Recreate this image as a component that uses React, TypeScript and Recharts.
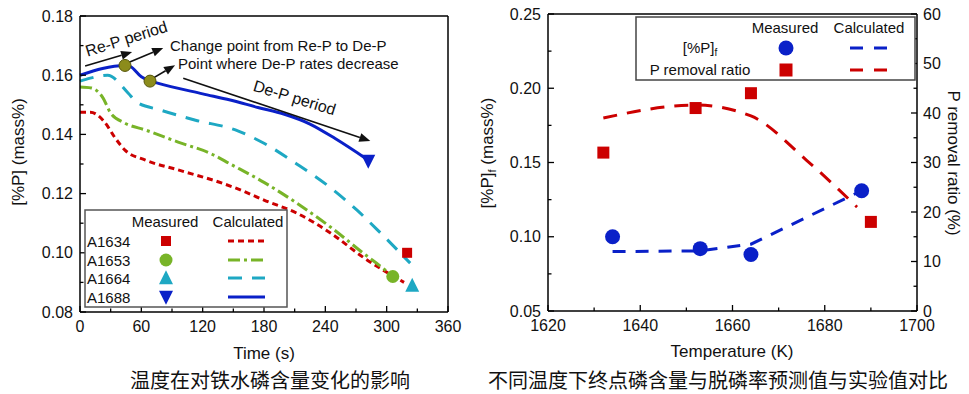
import React from "react";
import { ComposedChart, Line, Scatter, XAxis, YAxis, ReferenceLine } from "recharts";

// ---- left chart: [%P] vs time ----
const timeTicks = [0, 30, 60, 90, 120, 150, 180, 210, 240, 270, 300, 330, 360];
const pTicks = [0.08, 0.09, 0.1, 0.11, 0.12, 0.13, 0.14, 0.15, 0.16, 0.17, 0.18];

const a1634Time = [0, 10, 24, 34, 44, 64, 96, 135, 155, 180, 212, 245, 277, 317];
const a1634Calc = [0.1475, 0.1475, 0.1442, 0.139, 0.1347, 0.1313, 0.128, 0.124, 0.1215, 0.1178, 0.1134, 0.1067, 0.0985, 0.09];

const a1653Time = [0, 11, 22, 30, 44, 64, 96, 128, 147, 180, 212, 245, 277, 301, 306];
const a1653Calc = [0.156, 0.1557, 0.1526, 0.1472, 0.1438, 0.1415, 0.1374, 0.1335, 0.13, 0.1238, 0.1168, 0.1087, 0.0999, 0.0935, 0.092];

const a1664Time = [0, 10, 27, 47, 55, 79, 113, 152, 180, 212, 245, 271, 294, 323];
const a1664Calc = [0.158, 0.159, 0.16, 0.154, 0.151, 0.1482, 0.1448, 0.1415, 0.137, 0.13, 0.122, 0.1144, 0.1067, 0.0965];

const a1688Time = [0, 44, 49, 60, 69, 75, 120, 147, 174, 200, 225, 250, 282];
const a1688Calc = [0.16, 0.1633, 0.163, 0.1595, 0.158, 0.1574, 0.1537, 0.1516, 0.1491, 0.1468, 0.1435, 0.1385, 0.1313];

const heatNames = ["A1634", "A1653", "A1664", "A1688"];
const measuredTime = [320, 306, 325, 282];
const measuredP = [0.1, 0.092, 0.089, 0.131];

const changeTime = [44, 68.5];
const changeP = [0.1633, 0.158];

// annotation arrows (data coords)
const arrowStartT = [5, 44, 68.6, 101];
const arrowStartP = [0.1631, 0.1638, 0.1584, 0.159];
const arrowEndT = [51, 81.4, 93, 284];
const arrowEndP = [0.1678, 0.1692, 0.1634, 0.1378];

// ---- right chart: final [%P] and removal ratio vs temperature ----
const tempTicks = [1620, 1630, 1640, 1650, 1660, 1670, 1680, 1690, 1700];
const pfTicks = [0.05, 0.075, 0.1, 0.125, 0.15, 0.175, 0.2, 0.225, 0.25];
const ratioTicks = [0, 5, 10, 15, 20, 25, 30, 35, 40, 45, 50, 55, 60];

const pfTemp = [1634, 1653, 1664, 1688];
const pfMeasured = [0.1, 0.092, 0.088, 0.131];
const pfCalc = [0.09, 0.0905, 0.095, 0.131];

const ratioTemp = [1632, 1652, 1664, 1690];
const ratioMeasured = [32, 41, 44, 18];
const ratioCalcTemp = [1632, 1652, 1664, 1676, 1687];
const ratioCalc = [39, 41.6, 39.4, 30.5, 21];

const FONT = "'Liberation Sans', Arial, Helvetica, sans-serif";
const CJK = "'Noto Sans CJK SC', sans-serif";
const TM = 6;

const RED = "#cc0000";
const GREEN = "#78b428";
const CYAN = "#1ea8c3";
const BLUE = "#0a20c8";
const OLIVE = "#8c8c1c";

const pts = (xs: number[], ys: number[]) => xs.map((x, i) => ({ x, y: ys[i] }));

function xTick(isMajor: (v: number) => boolean, fmt: (v: number) => string) {
  return (p: any) => {
    const v = p.payload.value;
    const major = isMajor(v);
    const ay = p.y - TM;
    return (
      <g>
        <line x1={p.x} x2={p.x} y1={ay} y2={ay - (major ? 6 : 3.5)} stroke="#000" strokeWidth={1.3} />
        {major && (
          <text x={p.x} y={ay + 20} textAnchor="middle" fontSize={16} fontFamily={FONT} fill="#111">
            {fmt(v)}
          </text>
        )}
      </g>
    );
  };
}

function yTick(side: "left" | "right", isMajor: (v: number) => boolean, fmt: (v: number) => string) {
  return (p: any) => {
    const v = p.payload.value;
    const major = isMajor(v);
    const dir = side === "left" ? 1 : -1;
    const ax = p.x + dir * TM;
    return (
      <g>
        <line x1={ax} x2={ax + dir * (major ? 6 : 3.5)} y1={p.y} y2={p.y} stroke="#000" strokeWidth={1.3} />
        {major && (
          <text
            x={side === "left" ? ax - 7 : ax + 6}
            y={p.y + 5.5}
            textAnchor={side === "left" ? "end" : "start"}
            fontSize={16}
            fontFamily={FONT}
            fill="#111"
          >
            {fmt(v)}
          </text>
        )}
      </g>
    );
  };
}

const Arrow = (p: any) => {
  const { x1, y1, x2, y2 } = p;
  const a = Math.atan2(y2 - y1, x2 - x1);
  const L = 11;
  const W = 4.5;
  const bx = x2 - L * Math.cos(a);
  const by = y2 - L * Math.sin(a);
  const head = `${x2},${y2} ${bx - W * Math.sin(a)},${by + W * Math.cos(a)} ${bx + W * Math.sin(a)},${by - W * Math.cos(a)}`;
  return (
    <g>
      <line x1={x1} y1={y1} x2={bx} y2={by} stroke="#111" strokeWidth={1.6} />
      <polygon points={head} fill="#111" />
    </g>
  );
};

const square = (s: number, c: string) => (p: any) => (
  <rect x={p.cx - s / 2} y={p.cy - s / 2} width={s} height={s} fill={c} />
);
const circle = (r: number, c: string, stroke?: string) => (p: any) => (
  <circle cx={p.cx} cy={p.cy} r={r} fill={c} stroke={stroke || "none"} strokeWidth={1} />
);
const triUp = (s: number, c: string) => (p: any) => (
  <polygon points={`${p.cx},${p.cy - s * 0.55} ${p.cx - s / 2},${p.cy + s * 0.45} ${p.cx + s / 2},${p.cy + s * 0.45}`} fill={c} />
);
const triDown = (s: number, c: string) => (p: any) => (
  <polygon points={`${p.cx},${p.cy + s * 0.55} ${p.cx - s / 2},${p.cy - s * 0.45} ${p.cx + s / 2},${p.cy - s * 0.45}`} fill={c} />
);

const calcStyles = [
  { color: RED, dash: "6 4" },
  { color: GREEN, dash: "12 4 3 4" },
  { color: CYAN, dash: "14 10" },
  { color: BLUE, dash: undefined as string | undefined },
];
const measShapes = [square(10, RED), circle(6.5, GREEN), triUp(14, CYAN), triDown(14, BLUE)];

function TimeChart() {
  const calc = [
    pts(a1634Time, a1634Calc),
    pts(a1653Time, a1653Calc),
    pts(a1664Time, a1664Calc),
    pts(a1688Time, a1688Calc),
  ];
  return (
    <ComposedChart width={480} height={370} margin={{ top: 16, right: 32, bottom: 0, left: 0 }}>
      <XAxis
        dataKey="x"
        type="number"
        domain={[0, 360]}
        ticks={timeTicks}
        interval={0}
        height={58}
        tickSize={0}
        tickMargin={TM}
        tickLine={false}
        axisLine={{ stroke: "#000", strokeWidth: 1.5 }}
        tick={xTick((v) => v % 60 === 0, (v) => String(v))}
      />
      <YAxis
        dataKey="y"
        type="number"
        domain={[0.08, 0.18]}
        ticks={pTicks}
        interval={0}
        width={80}
        tickSize={0}
        tickMargin={TM}
        tickLine={false}
        axisLine={{ stroke: "#000", strokeWidth: 1.5 }}
        tick={yTick("left", (v) => Math.round(v * 100) % 2 === 0, (v) => v.toFixed(2))}
      />
      <ReferenceLine y={0.18} stroke="#000" strokeWidth={1.5} />
      <ReferenceLine x={360} stroke="#000" strokeWidth={1.5} />
      {calc.map((d, i) => (
        <Line
          key={heatNames[i]}
          data={d}
          dataKey="y"
          type="monotone"
          stroke={calcStyles[i].color}
          strokeWidth={3}
          strokeDasharray={calcStyles[i].dash}
          dot={false}
          activeDot={false}
          isAnimationActive={false}
        />
      ))}
      {measuredTime.map((t, i) => (
        <Scatter
          key={"m" + heatNames[i]}
          data={[{ x: t, y: measuredP[i] }]}
          shape={measShapes[i]}
          isAnimationActive={false}
        />
      ))}
      <Scatter data={pts(changeTime, changeP)} shape={circle(6, OLIVE, "#55550a")} isAnimationActive={false} />
      {arrowStartT.map((t, i) => (
        <ReferenceLine
          key={"a" + i}
          segment={[
            { x: t, y: arrowStartP[i] },
            { x: arrowEndT[i], y: arrowEndP[i] },
          ]}
          ifOverflow="visible"
          shape={Arrow}
        />
      ))}
    </ComposedChart>
  );
}

function TempChart() {
  return (
    <ComposedChart width={489} height={370} margin={{ top: 14, right: 0, bottom: 0, left: 0 }}>
      <XAxis
        dataKey="x"
        type="number"
        domain={[1620, 1700]}
        ticks={tempTicks}
        interval={0}
        height={59}
        tickSize={0}
        tickMargin={TM}
        tickLine={false}
        axisLine={{ stroke: "#000", strokeWidth: 1.5 }}
        tick={xTick((v) => v % 20 === 0, (v) => String(v))}
      />
      <YAxis
        yAxisId="p"
        dataKey="y"
        type="number"
        domain={[0.05, 0.25]}
        ticks={pfTicks}
        interval={0}
        width={68}
        tickSize={0}
        tickMargin={TM}
        tickLine={false}
        axisLine={{ stroke: "#000", strokeWidth: 1.5 }}
        tick={yTick("left", (v) => Math.round(v * 1000) % 50 === 0, (v) => v.toFixed(2))}
      />
      <YAxis
        yAxisId="r"
        orientation="right"
        dataKey="y"
        type="number"
        domain={[0, 60]}
        ticks={ratioTicks}
        interval={0}
        width={52}
        tickSize={0}
        tickMargin={TM}
        tickLine={false}
        axisLine={{ stroke: "#000", strokeWidth: 1.5 }}
        tick={yTick("right", (v) => v % 10 === 0, (v) => String(v))}
      />
      <ReferenceLine yAxisId="p" y={0.25} stroke="#000" strokeWidth={1.5} />
      <Line
        yAxisId="r"
        data={pts(ratioCalcTemp, ratioCalc)}
        dataKey="y"
        type="monotone"
        stroke={RED}
        strokeWidth={3}
        strokeDasharray="14 10"
        dot={false}
        activeDot={false}
        isAnimationActive={false}
      />
      <Line
        yAxisId="p"
        data={pts(pfTemp, pfCalc)}
        dataKey="y"
        type="linear"
        stroke={BLUE}
        strokeWidth={3}
        strokeDasharray="13 10"
        dot={false}
        activeDot={false}
        isAnimationActive={false}
      />
      <Scatter yAxisId="r" data={pts(ratioTemp, ratioMeasured)} shape={square(12, RED)} isAnimationActive={false} />
      <Scatter yAxisId="p" data={pts(pfTemp, pfMeasured)} shape={circle(7.5, BLUE)} isAnimationActive={false} />
    </ComposedChart>
  );
}

function Overlay() {
  const t = { fontFamily: FONT, fill: "#111" } as const;
  const rows = [241, 260, 278, 297];
  return (
    <svg width={969} height={394} style={{ position: "absolute", left: 0, top: 0, pointerEvents: "none" }}>
      {/* left annotations */}
      <text {...t} fontSize={16} textAnchor="middle" transform="translate(128,44) rotate(-17.5)">
        Re-P period
      </text>
      <text {...t} fontSize={15} x={170} y={50.5}>
        Change point from Re-P to De-P
      </text>
      <text {...t} fontSize={15} x={178} y={69}>
        Point where De-P rates decrease
      </text>
      <text {...t} fontSize={16} textAnchor="middle" transform="translate(293,103) rotate(17)">
        De-P period
      </text>

      {/* left legend */}
      <rect x={85} y={210} width={202} height={97} fill="#fff" stroke="#555" strokeWidth={1.5} />
      <text {...t} fontSize={15} x={165} y={227} textAnchor="middle">
        Measured
      </text>
      <text {...t} fontSize={15} x={248} y={227} textAnchor="middle">
        Calculated
      </text>
      {heatNames.map((n, i) => {
        const cy = rows[i];
        const Shape = measShapes[i];
        return (
          <g key={n}>
            <text {...t} fontSize={15} x={87} y={cy + 5.5}>
              {n}
            </text>
            {Shape({ cx: 166, cy })}
            <line
              x1={228}
              x2={265}
              y1={cy}
              y2={cy}
              stroke={calcStyles[i].color}
              strokeWidth={3}
              strokeDasharray={calcStyles[i].dash}
            />
          </g>
        );
      })}

      {/* left axis titles */}
      <text {...t} fontSize={17} textAnchor="middle" transform="translate(24,152) rotate(-90)">
        [%P] (mass%)
      </text>
      <text {...t} fontSize={17} x={264} y={359} textAnchor="middle">
        Time (s)
      </text>

      {/* right legend */}
      <rect x={636} y={17} width={279} height={63} fill="#fff" stroke="#444" strokeWidth={1.5} />
      <text {...t} fontSize={15} x={785} y={33} textAnchor="middle">
        Measured
      </text>
      <text {...t} fontSize={15} x={869} y={33} textAnchor="middle">
        Calculated
      </text>
      <text {...t} fontSize={15} x={700} y={53} textAnchor="middle">
        [%P]<tspan fontSize={10} dy={3}>f</tspan>
      </text>
      <text {...t} fontSize={15} x={700} y={75} textAnchor="middle">
        P removal ratio
      </text>
      <circle cx={786} cy={48} r={7.5} fill={BLUE} />
      <rect x={779.5} y={63.5} width={13} height={13} fill={RED} />
      <line x1={850} x2={887} y1={48} y2={48} stroke={BLUE} strokeWidth={3} strokeDasharray="13 11" />
      <line x1={850} x2={887} y1={70} y2={70} stroke={RED} strokeWidth={3} strokeDasharray="13 11" />

      {/* right axis titles */}
      <text {...t} fontSize={17} textAnchor="middle" transform="translate(493,153) rotate(-90)">
        [%P]<tspan fontSize={11} dy={3}>f</tspan>
        <tspan dy={-3}> (mass%)</tspan>
      </text>
      <text {...t} fontSize={17} textAnchor="middle" transform="translate(948,163) rotate(90)">
        P removal ratio (%)
      </text>
      <text {...t} fontSize={17} x={732} y={357} textAnchor="middle">
        Temperature (K)
      </text>

      {/* captions */}
      <text fontFamily={CJK} fontSize={20} fill="#111" x={270} y={388} textAnchor="middle">
        温度在对铁水磷含量变化的影响
      </text>
      <text fontFamily={CJK} fontSize={20} fill="#111" x={718} y={388} textAnchor="middle">
        不同温度下终点磷含量与脱磷率预测值与实验值对比
      </text>
    </svg>
  );
}

export default function App() {
  return (
    <div style={{ position: "absolute", left: 0, top: 0, width: 969, height: 394, background: "#fff", overflow: "hidden" }}>
      <div style={{ position: "absolute", left: 0, top: 0 }}>
        <TimeChart />
      </div>
      <div style={{ position: "absolute", left: 480, top: 0 }}>
        <TempChart />
      </div>
      <Overlay />
    </div>
  );
}
